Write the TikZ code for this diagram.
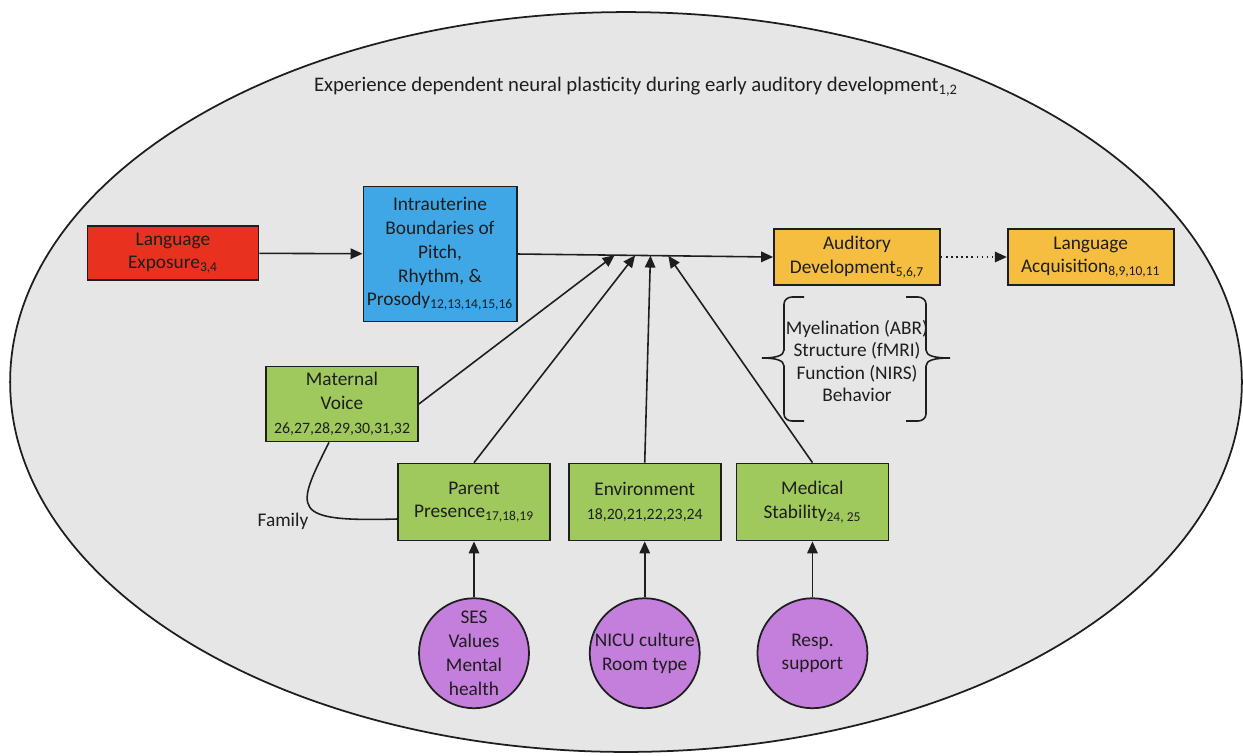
\documentclass[tikz,border=0pt]{standalone}
\usepackage{fontspec}
\setmainfont{Carlito}
\usetikzlibrary{positioning,arrows.meta,calc}
\definecolor{bggray}{HTML}{E6E6E6}
\definecolor{fred}{HTML}{E8321F}
\definecolor{fblue}{HTML}{3FA7E6}
\definecolor{forange}{HTML}{F5BE40}
\definecolor{fgreen}{HTML}{9FC95C}
\definecolor{fpurple}{HTML}{C47EDB}
\definecolor{ink}{HTML}{1E1E1E}
\newcommand{\refsub}[1]{\textsubscript{#1}}
\tikzset{
>={Triangle[length=2.4mm,width=2.1mm]},
every node/.style={font=\fontsize{11}{13.5}\selectfont, text=ink, align=center},
}

\begin{document}
\begin{tikzpicture}
    [x=0.02cm, y=-0.02cm,
    box/.style={draw=ink, line width=1pt, inner sep=2pt},
    factor/.style={box, fill=fgreen, minimum width=3.04cm, minimum height=1.54cm},
    cause/.style={circle, draw=ink, line width=1pt, fill=fpurple, minimum size=2.2cm, inner sep=0pt},
    link/.style={->, draw=ink, line width=0.9pt}
    ]

    \useasboundingbox (0,0) rectangle (1243,755);
    \draw[ink, fill=bggray, line width=1pt] (626,382) ellipse [x radius=12.32cm, y radius=7.4cm];

    \node [font=\fontsize{11.8}{14}\selectfont] (title) at (636,87)
    {Experience dependent neural plasticity during early auditory development\refsub{1,2}};

    \node [box, fill=fred, minimum width=3.42cm, minimum height=1.08cm] (lexp) at (173,253)
    {Language\\Exposure\refsub{3,4}};

    \node [box, fill=fblue, minimum width=2.94cm, minimum height=2.7cm] (intra) at (440,254)
    {Intrauterine\\Boundaries of\\Pitch,\\Rhythm, \&\\Prosody\refsub{12,13,14,15,16}};

    \node [box, fill=forange, minimum width=3.32cm, minimum height=1.12cm] (audev) at (857,257)
    {Auditory\\Development\refsub{5,6,7}};

    \node [box, fill=forange, minimum width=3.32cm, minimum height=1.12cm] (lacq) [right=1.32cm of audev]
    {Language\\Acquisition\refsub{8,9,10,11}};

    \node [font=\fontsize{11}{12.8}\selectfont] (meas) at (857,361)
    {Myelination (ABR)\\Structure (fMRI)\\Function (NIRS)\\Behavior};

    \node [factor, minimum height=1.5cm] (mvoice) at (342,404)
    {Maternal\\Voice\\{\small 26,27,28,29,30,31,32}};

    \node [factor] (parent) at (474,502)
    {Parent\\Presence\refsub{17,18,19}};

    \node [factor] (env) [right=0.34cm of parent]
    {Environment\\{\small 18,20,21,22,23,24}};

    \node [factor] (med) [right=0.28cm of env]
    {Medical\\Stability\refsub{24, 25}};

    \node [cause] (ses) [below=1.12cm of parent]
    {SES\\Values\\Mental\\health};

    \node [cause] (nicu) [below=1.12cm of env]
    {NICU culture\\Room type};

    \node [cause] (resp) [below=1.12cm of med]
    {Resp.\\support};

    \node (family) at (283,521) {Family};

    % points where the influences meet the main line
    \coordinate (j1) at ($(intra.east)!0.38!(audev.west)$);
    \coordinate (j2) at ($(intra.east)!0.46!(audev.west)$);
    \coordinate (j3) at ($(intra.east)!0.52!(audev.west)$);
    \coordinate (j4) at ($(intra.east)!0.59!(audev.west)$);

    \draw[link] (lexp) -- (intra);
    \draw[link] (intra.east) -- (audev.west);
    \draw[link, dotted] (audev) -- (lacq);
    \draw[link] (mvoice.east) -- (j1);
    \draw[link] (parent.north) -- (j2);
    \draw[link] (env.north) -- (j3);
    \draw[link] (med.north) -- (j4);
    \draw[link] (ses) -- (parent);
    \draw[link] (nicu) -- (env);
    \draw[link] (resp) -- (med);

    % family loop
    \draw[ink, line width=0.9pt] ([xshift=-0.26cm]mvoice.south)
        .. controls +(-0.68cm,-1.36cm) and +(-2.16cm,-0.06cm) .. ([yshift=-0.34cm]parent.west);

    % braces round the measures
    \draw[ink, line width=0.9pt] (804,297) -- (792,297) to[out=180,in=90] (784,304) -- (784,350)
        .. controls (784,356) and (775,358) .. (762,358)
        .. controls (775,358) and (784,360) .. (784,366) -- (784,414)
        to[out=-90,in=180] (792,421) -- (804,421);
    \draw[ink, line width=0.9pt] (906,297) -- (918,297) to[out=0,in=90] (926,304) -- (926,350)
        .. controls (926,356) and (935,358) .. (950,358)
        .. controls (935,358) and (926,360) .. (926,366) -- (926,414)
        to[out=-90,in=0] (918,421) -- (906,421);

\end{tikzpicture}
\end{document}
